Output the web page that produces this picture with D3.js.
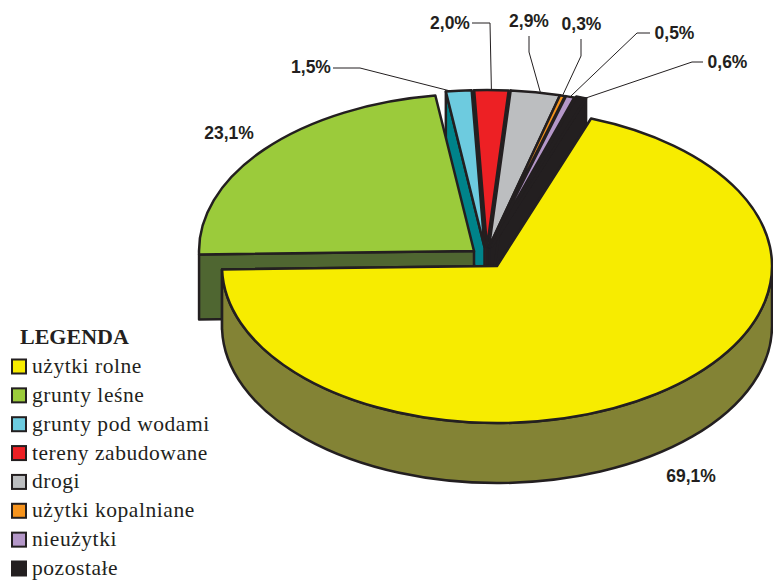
<!DOCTYPE html>
<html>
<head>
<meta charset="utf-8">
<script src="https://cdnjs.cloudflare.com/ajax/libs/d3/7.8.5/d3.min.js"></script>
<style>
    html, body { margin: 0; padding: 0; background: #fff; }
    svg { display: block; }
</style>
</head>
<body>
<div id="chart"></div>
<script>
// values
const categories = ["użytki rolne", "grunty leśne", "grunty pod wodami", "tereny zabudowane", "drogi", "użytki kopalniane", "nieużytki", "pozostałe"];
const shares = [69.1, 23.1, 1.5, 2.0, 2.9, 0.3, 0.5, 0.6];

const topColors = ["#f7ec00", "#9bcb3b", "#6dcbdf", "#ed2024", "#bcbec0", "#f7941d", "#b497c8", "#231f20"];
const sideColors = ["#838335", "#4f6631", "#00838a", "#5c1a1e", "#231f20", "#231f20", "#231f20", "#231f20"];

// where each exploded slice has its tip
const tips = [[497, 266], [474, 251], [484.5, 247], [487, 247], [489, 247], [489, 247], [490, 247], [492, 246]];

// label spot, elbow of its leader line and how far along the rim the leader lands
const labelSpots = [
    {x: 691, y: 482, elbow: null},
    {x: 229, y: 139, elbow: null},
    {x: 311, y: 73, elbow: [[333, 68], [360, 68]], along: 0.2},
    {x: 450, y: 29, elbow: [[472, 23], [490, 23]], along: 0.5},
    {x: 529, y: 27, elbow: [[529, 36], [529, 52]], along: 0.6},
    {x: 581.5, y: 30, elbow: [[581, 39], [581, 56]], along: 0.5},
    {x: 674.5, y: 39, elbow: [[650, 33], [637, 33]], along: 0.5},
    {x: 727.5, y: 68, elbow: [[703, 62], [692, 62]], along: 0.9}
];

const width = 773, height = 581;
const rx = 275, ry = 157, depth = 60, greenDepth = 65;
const ink = "#231f20";

const svg = d3.select("#chart").append("svg")
    .attr("width", width)
    .attr("height", height)
    .attr("viewBox", [0, 0, width, height]);

const topColor = d3.scaleOrdinal().domain(categories).range(topColors);
const sideColor = d3.scaleOrdinal().domain(categories).range(sideColors);

const slices = d3.pie()
    .sort(null)
    .value(d => d.share)
    .startAngle(20 * Math.PI / 180)
    .endAngle(380 * Math.PI / 180)(categories.map((name, i) => ({name: name, share: shares[i], tip: tips[i], spot: labelSpots[i]})));

// angle 0 is north, clockwise, on the squashed circle
function rim(tip, a) {
    return [tip[0] + rx * Math.sin(a), tip[1] - ry * Math.cos(a)];
}

function topPath(s) {
    let tip = s.data.tip;
    let p0 = rim(tip, s.startAngle), p1 = rim(tip, s.endAngle);
    let large = s.endAngle - s.startAngle > Math.PI ? 1 : 0;
    return `M${tip}L${p0}A${rx},${ry} 0 ${large} 1 ${p1}Z`;
}

// flat wall along one of the cuts of a slice
function cutPath(s, a, h = depth) {
    let tip = s.data.tip;
    let p = rim(tip, a);
    return `M${tip}L${p}L${p[0]},${p[1] + h}L${tip[0]},${tip[1] + h}Z`;
}

// curved wall, only the front half of the rim can be seen
function wallPath(s) {
    let tip = s.data.tip;
    let a0 = Math.max(s.startAngle, Math.PI / 2), a1 = Math.min(s.endAngle, 3 * Math.PI / 2);
    if (a1 <= a0) return null;
    let p0 = rim(tip, a0), p1 = rim(tip, a1);
    return `M${p0}A${rx},${ry} 0 0 1 ${p1}L${p1[0]},${p1[1] + depth}A${rx},${ry} 0 0 0 ${p0[0]},${p0[1] + depth}Z`;
}

function drawPath(d, fill) {
    svg.append("path")
        .attr("d", d)
        .attr("fill", fill)
        .attr("stroke", ink)
        .attr("stroke-width", 2.5)
        .attr("stroke-linejoin", "round");
}

let yellow = slices[0], green = slices[1], small = slices.slice(2);

// back walls of the small slices first
drawPath(cutPath(small[5], small[5].endAngle), sideColor(small[5].data.name));
drawPath(cutPath(small[2], small[2].startAngle), sideColor(small[2].data.name));
drawPath(cutPath(small[1], small[1].startAngle), sideColor(small[1].data.name));
drawPath(cutPath(small[0], small[0].startAngle), sideColor(small[0].data.name));

small.forEach(s => drawPath(topPath(s), topColor(s.data.name)));

// green slice
drawPath(cutPath(green, green.startAngle, greenDepth), sideColor(green.data.name));
drawPath(topPath(green), topColor(green.data.name));

// yellow slice goes over everything
drawPath(cutPath(yellow, yellow.endAngle), sideColor(yellow.data.name));
drawPath(wallPath(yellow), sideColor(yellow.data.name));
drawPath(topPath(yellow), topColor(yellow.data.name));

// leader lines end on the rim of their slice
const leader = d3.line();
slices.forEach(s => {
    if (!s.data.spot.elbow) return;
    let end = rim(s.data.tip, s.startAngle + (s.endAngle - s.startAngle) * s.data.spot.along);
    svg.append("path")
        .attr("d", leader([...s.data.spot.elbow, end]))
        .attr("fill", "none")
        .attr("stroke", ink)
        .attr("stroke-width", 1);
});

svg.selectAll(".share-label")
    .data(slices)
    .join("text")
    .attr("class", "share-label")
    .attr("x", d => d.data.spot.x)
    .attr("y", d => d.data.spot.y)
    .attr("text-anchor", "middle")
    .attr("font-family", "'Liberation Sans', Arial, sans-serif")
    .attr("font-weight", "bold")
    .attr("font-size", 17.5)
    .attr("fill", ink)
    .text(d => d.data.share.toFixed(1).replace(".", ",") + "%");

// legend
const legendY = d3.scalePoint().domain(categories).range([373, 575]);

svg.append("text")
    .attr("x", 20)
    .attr("y", 344)
    .attr("font-family", "'Liberation Serif', serif")
    .attr("font-weight", "bold")
    .attr("font-size", 22)
    .attr("fill", ink)
    .text("LEGENDA");

const legend = svg.selectAll(".legend-item")
    .data(categories)
    .join("g")
    .attr("class", "legend-item")
    .attr("transform", d => `translate(0, ${legendY(d)})`);

legend.append("rect")
    .attr("x", 12)
    .attr("y", -13.5)
    .attr("width", 14)
    .attr("height", 14)
    .attr("fill", d => topColor(d))
    .attr("stroke", ink)
    .attr("stroke-width", 2);

legend.append("text")
    .attr("x", 32)
    .attr("y", 0)
    .attr("font-family", "'Liberation Serif', serif")
    .attr("font-size", 21.5)
    .attr("letter-spacing", 0.55)
    .attr("fill", ink)
    .text(d => d);
</script>
</body>
</html>
